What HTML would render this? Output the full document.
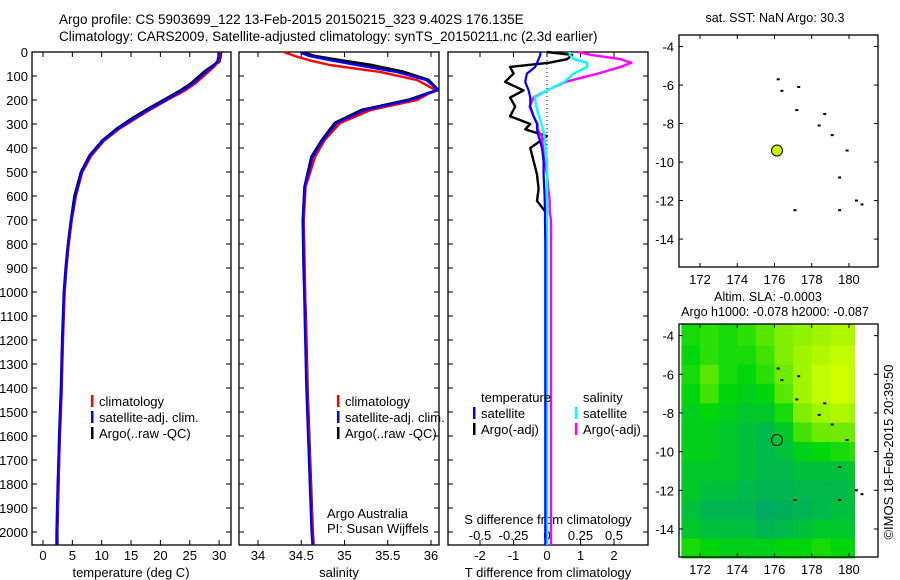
<!DOCTYPE html>
<html><head><meta charset="utf-8">
<style>
html,body{margin:0;padding:0;background:#fff;}
svg{display:block;font-family:"Liberation Sans",sans-serif;}
</style></head>
<body>
<svg id="fig" width="900" height="580" viewBox="0 0 900 580" xmlns="http://www.w3.org/2000/svg">
<text x="59" y="24" font-size="13.5">Argo profile: CS 5903699_122 13-Feb-2015 20150215_323 9.402S 176.135E</text>
<text x="59" y="41" font-size="13.5">Climatology: CARS2009. Satellite-adjusted climatology: synTS_20150211.nc (2.3d earlier)</text>
<g id="g"></g>
</svg>
<script>
// ---- data ----
const depthT = [0,20,40,60,80,100,130,160,200,240,280,320,370,430,500,600,700,800,900,1000,1200,1400,1600,1800,2000,2054];
const tempClim = [30.1,30.1,29.9,29.2,28.3,27.4,26.0,24.2,21.2,18.3,15.6,13.0,10.4,8.3,6.7,5.6,4.9,4.4,4.0,3.7,3.4,3.2,2.9,2.6,2.4,2.3];
const tempSat  = [29.9,29.9,29.7,28.9,27.9,27.0,25.6,23.8,20.9,18.0,15.3,12.8,10.2,8.1,6.6,5.5,4.8,4.3,3.9,3.6,3.3,3.1,2.8,2.5,2.3,2.3];
const tempArgo = [30.3,30.2,30.0,28.8,27.6,26.7,25.3,23.5,20.6,17.7,15.0,12.6,10.1,8.0,6.5,5.4,4.8,4.3,3.9,3.6,3.3,3.1,2.8,2.6,2.4,2.4];
const depthS = [0,4,17,35,54,83,117,158,200,242,296,367,437,562,700,900,1100,1400,1700,2000,2054];
const salClim = [34.30,34.33,34.43,34.60,34.83,35.41,35.84,36.05,35.84,35.30,34.95,34.77,34.66,34.55,34.53,34.54,34.55,34.57,34.60,34.63,34.64];
const salSat  = [34.50,34.50,34.60,34.85,35.14,35.60,35.95,36.08,35.76,35.23,34.91,34.75,34.63,34.54,34.52,34.53,34.54,34.56,34.59,34.62,34.63];
const salArgo = [34.54,34.54,34.65,34.95,35.30,35.68,35.97,36.08,35.74,35.20,34.89,34.74,34.62,34.54,34.52,34.53,34.55,34.57,34.60,34.63,34.64];
const depthD = [0,12,30,45,62,90,124,160,190,227,268,300,322,351,400,455,510,570,620,665,700,800,1000,1400,1800,2054];
const tDiffArgo = [0.0,0.75,0.6,0.05,-1.1,-1.0,-1.25,-0.7,-1.1,-0.95,-1.1,-0.5,-0.65,0.0,-0.5,-0.4,-0.3,-0.25,-0.3,-0.05,-0.05,null,null,null,null,null];
const tDiffSat  = [-0.2,-0.2,-0.25,-0.3,-0.35,-0.6,-0.65,-0.55,-0.5,-0.5,-0.4,-0.3,-0.3,-0.25,-0.15,-0.1,-0.1,-0.08,-0.07,-0.06,-0.06,-0.05,-0.05,-0.05,-0.05,-0.05];
const sDiffArgo = [0.23,0.33,0.55,0.63,0.55,0.38,0.14,0.0,-0.1,-0.13,-0.1,-0.07,-0.07,-0.04,-0.03,-0.02,0.0,0.01,0.02,0.02,0.03,0.03,0.03,0.03,0.03,0.03];
const sDiffSat  = [0.17,0.17,0.2,0.3,0.3,0.2,0.13,0.0,-0.09,-0.08,-0.06,-0.04,-0.03,-0.02,-0.01,0.0,0.0,0.0,0.0,0.0,0.0,0.0,0.0,0.0,0.0,0.0];
const depthTicks = [0,100,200,300,400,500,600,700,800,900,1000,1100,1200,1300,1400,1500,1600,1700,1800,1900,2000];
const tempTicks = [0,5,10,15,20,25,30];
const salTicks = [34,34.5,35,35.5,36];
const tDiffTicks = [-2,-1,0,1,2];
const sDiffTicks = [-0.5,-0.25,0,0.25,0.5];
const sDiffTickLabels = ["-0.5","-0.25","0","0.25","0.5"];
const lonTicks = [172,174,176,178,180];
const latTicks = [-4,-6,-8,-10,-12,-14];
const islandLon = [176.2,176.4,177.3,177.2,178.7,178.4,179.1,179.9,179.5,177.1,179.5,180.4,180.7];
const islandLat = [-5.7,-6.3,-6.1,-7.3,-7.5,-8.1,-8.6,-9.4,-10.8,-12.5,-12.5,-12.0,-12.2];
const argoLon = 176.135, argoLat = -9.402;
const slaLats = [-3.4,-4.5,-5.5,-6.5,-7.5,-8.5,-9.5,-10.5,-11.5,-12.5,-13.5,-14.5,-15.5];
const slaGrid = [
[0.5,0.55,0.5,0.55,0.65,0.75,0.8,0.85,0.9,0.9],
[0.45,0.55,0.5,0.5,0.6,0.75,0.85,0.9,0.95,0.95],
[0.5,0.65,0.5,0.45,0.55,0.7,0.85,0.95,1,0.95],
[0.45,0.6,0.45,0.4,0.45,0.65,0.85,0.95,1,0.95],
[0.4,0.45,0.4,0.35,0.35,0.5,0.75,0.85,0.9,0.85],
[0.4,0.4,0.35,0.3,0.25,0.35,0.6,0.7,0.7,0.7],
[0.4,0.4,0.35,0.3,0.25,0.3,0.4,0.45,0.5,0.55],
[0.35,0.35,0.35,0.3,0.25,0.25,0.3,0.3,0.3,0.35],
[0.35,0.3,0.3,0.25,0.2,0.2,0.25,0.25,0.25,0.3],
[0.3,0.2,0.2,0.2,0.1,0.15,0.2,0.25,0.3,0.3],
[0.35,0.3,0.3,0.3,0.2,0.25,0.3,0.35,0.35,0.35],
[0.5,0.45,0.4,0.4,0.4,0.45,0.45,0.5,0.45,0.45]];
const slaLons = [171,172,173,174,175,176,177,178,179,180,180.3];

// ---- helpers ----
const NS="http://www.w3.org/2000/svg";
const G=document.getElementById('g');
function el(tag,attrs,parent){const e=document.createElementNS(NS,tag);for(const k in attrs)e.setAttribute(k,attrs[k]);(parent||G).appendChild(e);return e;}
function txt(x,y,s,anchor,size,parent){const t=el('text',{x:x,y:y,'font-size':size||13,'text-anchor':anchor||'start'},parent);t.textContent=s;return t;}
const yD = d => 52 + 0.24*d;
const PT=52, PB=545;
const xT = t => 43 + 5.87*t;
const xS = s => 258 + 86.5*(s-34);
const xTD = v => 547 + 33.5*v;
const xSD = v => 547 + 134*v;

function frame(x0,x1,name){
  const r=el('rect',{x:x0,y:PT,width:x1-x0,height:PB-PT,fill:'none',stroke:'#000','stroke-width':1.3});
  
  
  for(const d of depthTicks){
    const yy=yD(d);
    el('line',{x1:x0,x2:x0+5,y1:yy,y2:yy,stroke:'#000'});
    el('line',{x1:x1-5,x2:x1,y1:yy,y2:yy,stroke:'#000'});
  }
}
function xticks(vals,fx,x0,x1,labels,ly,name){
  const g=el('g',{});
  
  
  vals.forEach((v,i)=>{const xx=fx(v);
    el('line',{x1:xx,x2:xx,y1:PT,y2:PT+5,stroke:'#000'},g);
    el('line',{x1:xx,x2:xx,y1:PB-5,y2:PB,stroke:'#000'},g);
    if(labels) txt(xx,ly,labels[i],'middle',13,g);
  });
}
function line(xs,ds,fx,color,name,w){
  let p='';let pen=false;
  for(let i=0;i<xs.length;i++){
    if(xs[i]===null||xs[i]===undefined){pen=false;continue;}
    p+=(pen?'L':'M')+fx(xs[i]).toFixed(1)+' '+yD(ds[i]).toFixed(1)+' ';pen=true;
  }
  const e=el('path',{d:p,fill:'none',stroke:color,'stroke-width':w||2.4,'stroke-linejoin':'round'});
  
  
}
function legend(x,y,items,name){
  const g=el('g',{});
  
  
  items.forEach((it,i)=>{
    if(it[0]) el('rect',{x:x,y:y+i*16-11,width:2.5,height:12,fill:it[0]},g);
    txt(x+(it[0]?8:0),y+i*16,it[1],'start',13,g);
  });
}

// ---- panel 1 temperature ----
frame(32,231,'temperature-panel');
const dg=el('g',{});


depthTicks.forEach(d=>txt(28,yD(d)+5,String(d),'end',13,dg));
xticks(tempTicks,xT,32,231,tempTicks.map(String),560,'temperature-x-axis');
txt(131,577,'temperature (deg C)','middle',13);
line(tempArgo,depthT,xT,'#000','temp-argo-line',3);
line(tempClim,depthT,xT,'#f00','temp-climatology-line');
line(tempSat,depthT,xT,'#00f','temp-satellite-line');
legend(91,406,[['#f00','climatology'],['#00f','satellite-adj. clim.'],['#000','Argo(..raw -QC)']],'temperature-legend');

// ---- panel 2 salinity ----
frame(239,439,'salinity-panel');
xticks(salTicks,xS,239,439,['34','34.5','35','35.5','36'],560,'salinity-x-axis');
txt(339,577,'salinity','middle',13);
line(salArgo,depthS,xS,'#000','sal-argo-line',3);
line(salClim,depthS,xS,'#f00','sal-climatology-line');
line(salSat,depthS,xS,'#00f','sal-satellite-line');
legend(337,406,[['#f00','climatology'],['#00f','satellite-adj. clim.'],['#000','Argo(..raw -QC)']],'salinity-legend');
txt(327,518,'Argo Australia','start',13);
txt(327,533,'PI: Susan Wijffels','start',13);

// ---- panel 3 differences ----
frame(448,648,'difference-panel');
xticks(tDiffTicks,xTD,448,648,tDiffTicks.map(String),560,'t-difference-x-axis');
const sl=el('g',{});


sDiffTicks.forEach((v,i)=>txt(xSD(v),540,sDiffTickLabels[i],'middle',13,sl));
txt(548,524,'S difference from climatology','middle',13);
txt(548,577,'T difference from climatology','middle',13);
el('line',{x1:xTD(0),x2:xTD(0),y1:PT,y2:PB,stroke:'#000','stroke-dasharray':'1,3'});
line(tDiffArgo,depthD,xTD,'#000','tdiff-argo-line',2.4);
line(sDiffArgo,depthD,xSD,'#f0f','sdiff-argo-line',2.4);
line(sDiffSat,depthD,xSD,'#0ff','sdiff-satellite-line',2.4);
line(tDiffSat,depthD,xTD,'#00f','tdiff-satellite-line',2.2);
legend(481,402,[[null,'temperature']],'diff-legend-temp-header');
legend(473,418,[['#00f','satellite'],['#000','Argo(-adj)']],'diff-legend-temperature');
legend(583,402,[[null,'salinity']],'diff-legend-sal-header');
legend(575,418,[['#0ff','satellite'],['#f0f','Argo(-adj)']],'diff-legend-salinity');

// ---- maps ----
const MX0=679, MX1=878;
const xL = lon => 700 + 18.62*(lon-172);
function map(top,bottom,name,heat){
  const yL = lat => top + (bottom-top)*(-3.4-lat)/(12.05);
  const g=el('g',{});
  
  
  if(heat){
    const cols=[[0,160,110],[0,185,75],[0,215,10],[110,235,0],[210,255,0]];
    const stops=[0,0.25,0.45,0.7,1.0];
    const cmap=v=>{let i=0;while(i<3&&v>stops[i+1])i++;const f=Math.max(0,Math.min(1,(v-stops[i])/(stops[i+1]-stops[i])));const a=cols[i],b=cols[i+1];
      return 'rgb('+a.map((c,k)=>Math.round(c+(b[k]-c)*f)).join(',')+')';};
    slaGrid.forEach((row,r)=>row.forEach((v,c)=>{
      const x0=xL(slaLons[c]),x1=xL(slaLons[c+1]);
      const y0=yL(slaLats[r]),y1=yL(slaLats[r+1]);
      const cell=el('rect',{x:x0,y:y0,width:x1-x0+0.5,height:y1-y0+0.5,fill:cmap(v)},g);
      
      
    }));
  }
  el('rect',{x:MX0,y:top,width:MX1-MX0,height:bottom-top,fill:'none',stroke:'#000','stroke-width':1.3},g);
  lonTicks.forEach(l=>{const xx=xL(l);
    el('line',{x1:xx,x2:xx,y1:top,y2:top+4,stroke:'#000'},g);
    el('line',{x1:xx,x2:xx,y1:bottom-4,y2:bottom,stroke:'#000'},g);
    txt(xx,bottom+17,String(l),'middle',13,g);});
  latTicks.forEach(l=>{const yy=yL(l);
    el('line',{x1:MX0,x2:MX0+4,y1:yy,y2:yy,stroke:'#000'},g);
    el('line',{x1:MX1-4,x2:MX1,y1:yy,y2:yy,stroke:'#000'},g);
    txt(674,yy+5,String(l),'end',13,g);});
  islandLon.forEach((lo,i)=>{
    const d=el('rect',{x:xL(lo)-1.5,y:yL(islandLat[i])-1,width:3,height:2,fill:'#000'},g);
    
    
  });
  const c=el('circle',{cx:xL(argoLon),cy:yL(argoLat),r:5.5,fill:heat?'none':'#c8f000',stroke:'#000','stroke-width':1},g);
  
  
}
map(35,267,'sst-map',false);
map(324,557,'sla-map',true);
txt(775,22,'sat. SST: NaN Argo: 30.3','middle',12.5);
txt(768,301,'Altim. SLA: -0.0003','middle',12.5);
txt(775,316,'Argo h1000: -0.078 h2000: -0.087','middle',12.5);
const ts=txt(0,0,'©IMOS 18-Feb-2015 20:39:50','middle',13);
ts.setAttribute('transform','translate(893,452) rotate(-90)');

</script>
</body></html>
